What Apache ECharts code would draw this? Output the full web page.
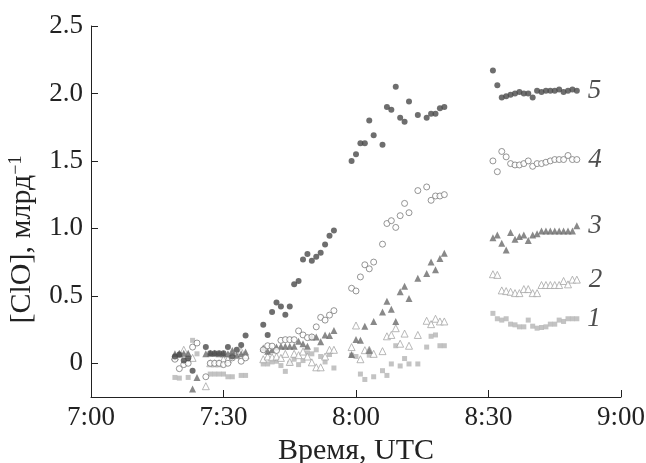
<!DOCTYPE html>
<html>
<head>
<meta charset="utf-8">
<script src="https://cdn.jsdelivr.net/npm/echarts@6/dist/echarts.min.js"></script>
<style>
  html, body { margin: 0; background: #fff; }
  #chart { width: 646px; height: 463px; }
</style>
</head>
<body>
<div id="chart"></div>
<script>
// observation times, minutes after 7:00 UTC (four blocks)
const times = [
  19, 20, 21, 22, 23, 24, 25, 26, 27, 28, 29, 30, 31, 32, 33, 34, 35,
  39, 40, 41, 42, 43, 44, 45, 46, 47, 48, 49, 50, 51, 52, 53, 54, 55,
  59, 60, 61, 62, 63, 64, 65, 66, 67, 68, 69, 70, 71, 72, 73, 74, 75, 76, 77, 78, 79, 80,
  91, 92, 93, 94, 95, 96, 97, 98, 99, 100, 101, 102, 103, 104, 105, 106, 107, 108, 109, 110
];

const xTickLabels = ['7:00', '7:30', '8:00', '8:30', '9:00'];
const yTicks = [0, 0.5, 1.0, 1.5, 2.0, 2.5];
const seriesNames = ['1', '2', '3', '4', '5'];

// [ClO], ppb
const clo1 = [
  -0.105, -0.11, null, -0.105, 0.17, 0.07, null, null, -0.08, -0.08, -0.08, -0.08, -0.10, -0.10, null, -0.09, -0.09,
  -0.005, -0.005, 0.01, 0.015, -0.017, -0.06, 0.0, 0.03, -0.01, 0.02, 0.077, 0.07, 0.10, 0.05, 0.01, 0.065, -0.035,
  0.06, 0.05, -0.08, -0.12, 0.06, -0.10, null, -0.055, -0.09, -0.005, 0.13, -0.02, 0.035, -0.005, null, -0.005, null, 0.12, 0.20, 0.21, 0.13, 0.13,
  0.37, 0.33, 0.32, 0.33, 0.29, 0.285, 0.27, 0.27, 0.32, 0.275, 0.26, 0.265, 0.27, 0.29, 0.29, 0.32, 0.31, 0.33, 0.33, 0.33
];
const clo2 = [
  0.05, 0.07, 0.10, 0.06, 0.04, null, null, -0.17, 0.0, 0.0, 0.0, 0.03, 0.03, 0.07, null, 0.09, 0.06,
  0.03, 0.05, 0.045, 0.05, 0.04, 0.07, 0.01, 0.07, 0.06, 0.087, 0.05, 0.007, -0.03, -0.03, 0.05, 0.10, 0.10,
  0.12, 0.28, 0.03, 0.097, 0.10, 0.07, null, 0.09, 0.20, 0.21, 0.26, 0.145, 0.22, 0.13, null, 0.21, null, 0.315, 0.29, 0.33, 0.31, 0.31,
  0.66, 0.655, 0.54, 0.535, 0.53, 0.52, 0.52, 0.55, 0.55, 0.52, 0.52, 0.58, 0.58, 0.58, 0.58, 0.58, 0.61, 0.585, 0.62, 0.62
];
const clo3 = [
  0.07, 0.07, 0.075, 0.075, -0.19, -0.105, null, 0.07, 0.075, 0.075, 0.07, 0.07, 0.07, 0.094, 0.06, 0.07, 0.084,
  0.114, 0.09, 0.10, 0.12, 0.127, 0.127, 0.127, 0.127, 0.164, 0.144, 0.127, 0.195, 0.195, 0.16, 0.21, 0.206, 0.243,
  0.065, 0.176, 0.17, 0.275, 0.097, 0.31, null, 0.38, 0.46, 0.40, 0.31, 0.53, 0.57, 0.48, null, 0.63, null, 0.665, 0.75, 0.694, 0.776, 0.816,
  0.93, 0.95, 0.89, 0.84, 0.97, 0.92, 0.94, 0.95, 0.91, 0.95, 0.96, 0.98, 0.98, 0.98, 0.98, 0.98, 0.98, 0.98, 0.98, 1.02
];
const clo4 = [
  0.03, -0.04, -0.01, 0.0, 0.12, 0.15, null, -0.10, 0.0, 0.0, 0.0, -0.01, 0.0, 0.04, null, 0.015, 0.04,
  0.10, 0.13, 0.127, 0.095, 0.17, 0.175, 0.175, 0.175, 0.24, 0.21, 0.19, 0.195, 0.27, 0.34, 0.32, 0.357, 0.39,
  0.556, 0.536, 0.64, 0.73, 0.70, 0.75, null, 0.883, 1.036, 1.057, 1.007, 1.094, 1.185, 1.116, null, 1.28, null, 1.307, 1.208, 1.24, 1.24, 1.25,
  1.50, 1.42, 1.57, 1.53, 1.48, 1.47, 1.47, 1.48, 1.50, 1.46, 1.48, 1.48, 1.49, 1.50, 1.51, 1.51, 1.51, 1.54, 1.51, 1.51
];
const clo5 = [
  0.05, 0.065, 0.02, 0.035, -0.055, null, null, 0.12, 0.075, 0.075, 0.075, 0.075, 0.12, 0.05, 0.10, 0.135, 0.205,
  0.285, 0.21, 0.38, 0.45, 0.42, 0.36, 0.42, 0.585, 0.61, 0.77, 0.81, 0.76, 0.79, 0.82, 0.88, 0.945, 0.985,
  1.50, 1.55, 1.63, 1.63, 1.80, 1.69, null, 1.62, 1.90, 1.88, 2.05, 1.82, 1.79, 1.94, null, 1.84, null, 1.82, 1.85, 1.85, 1.89, 1.90,
  2.17, 2.06, 1.97, 1.98, 1.99, 2.00, 2.01, 2.00, 2.00, 1.97, 2.02, 2.01, 2.02, 2.02, 2.02, 2.03, 2.01, 2.02, 2.03, 2.02
];

const FONT = 'Liberation Serif';

// pairs [time, value]; the last point carries the series number
function toData(values, name) {
  const out = [];
  values.forEach((v, i) => {
    if (v !== null) out.push([times[i], v]);
  });
  const last = out.pop();
  out.push({
    value: last,
    label: {
      show: true, position: 'right', distance: 8, formatter: name,
      fontFamily: FONT, fontStyle: 'italic', fontSize: 27, color: '#222'
    }
  });
  return out;
}

const styles = [
  { symbol: 'rect', size: 5, itemStyle: { color: '#b4b4b4' } },
  { symbol: 'triangle', size: 7, itemStyle: { color: '#fff', borderColor: '#a6a6a6', borderWidth: 1 } },
  { symbol: 'triangle', size: 7, itemStyle: { color: '#6c6c6c' } },
  { symbol: 'circle', size: 6, itemStyle: { color: '#fff', borderColor: '#7a7a7a', borderWidth: 1 } },
  { symbol: 'circle', size: 6, itemStyle: { color: '#4a4a4a' } }
];
const allValues = [clo1, clo2, clo3, clo4, clo5];

const chart = echarts.init(document.getElementById('chart'));
chart.setOption({
  animation: false,
  backgroundColor: '#fff',
  grid: { left: 91, right: 25, top: 26, bottom: 66, containLabel: false, outerBoundsMode: 'none' },
  xAxis: {
    type: 'value',
    min: 0,
    max: 120,
    interval: 30,
    name: 'Время, UTC',
    nameLocation: 'middle',
    nameGap: 34,
    nameTextStyle: { fontFamily: FONT, fontSize: 30, color: '#222' },
    axisLine: { onZero: false, lineStyle: { color: '#222', width: 1 } },
    axisTick: { inside: true, length: 7, lineStyle: { color: '#222' } },
    axisLabel: {
      margin: 7,
      fontFamily: FONT, fontSize: 27, color: '#222',
      formatter: v => xTickLabels[Math.round(v / 30)]
    },
    splitLine: { show: false }
  },
  yAxis: {
    type: 'value',
    min: -0.25,
    max: 2.5,
    name: '[ClO], млрд{sup|−1}',
    nameLocation: 'middle',
    nameGap: 53,
    nameTextStyle: {
      fontFamily: FONT, fontSize: 30, color: '#222',
      padding: [0, 56, 0, 0],
      rich: { sup: { fontFamily: FONT, fontSize: 18, color: '#222', verticalAlign: 'top', padding: [0, 0, 13, 0] } }
    },
    axisLine: { show: true, lineStyle: { color: '#222', width: 1 } },
    axisTick: { show: true, inside: true, length: 7, customValues: yTicks, lineStyle: { color: '#222' } },
    axisLabel: {
      margin: 8,
      fontFamily: FONT, fontSize: 27, color: '#222',
      customValues: yTicks,
      formatter: v => (v === 0 ? '0' : v.toFixed(1))
    },
    splitLine: { show: false }
  },
  series: allValues.map((vals, k) => ({
    name: seriesNames[k],
    type: 'scatter',
    symbol: styles[k].symbol,
    symbolSize: styles[k].size,
    itemStyle: styles[k].itemStyle,
    data: toData(vals, seriesNames[k]),
    z: 2 + k
  }))
});
</script>
</body>
</html>
